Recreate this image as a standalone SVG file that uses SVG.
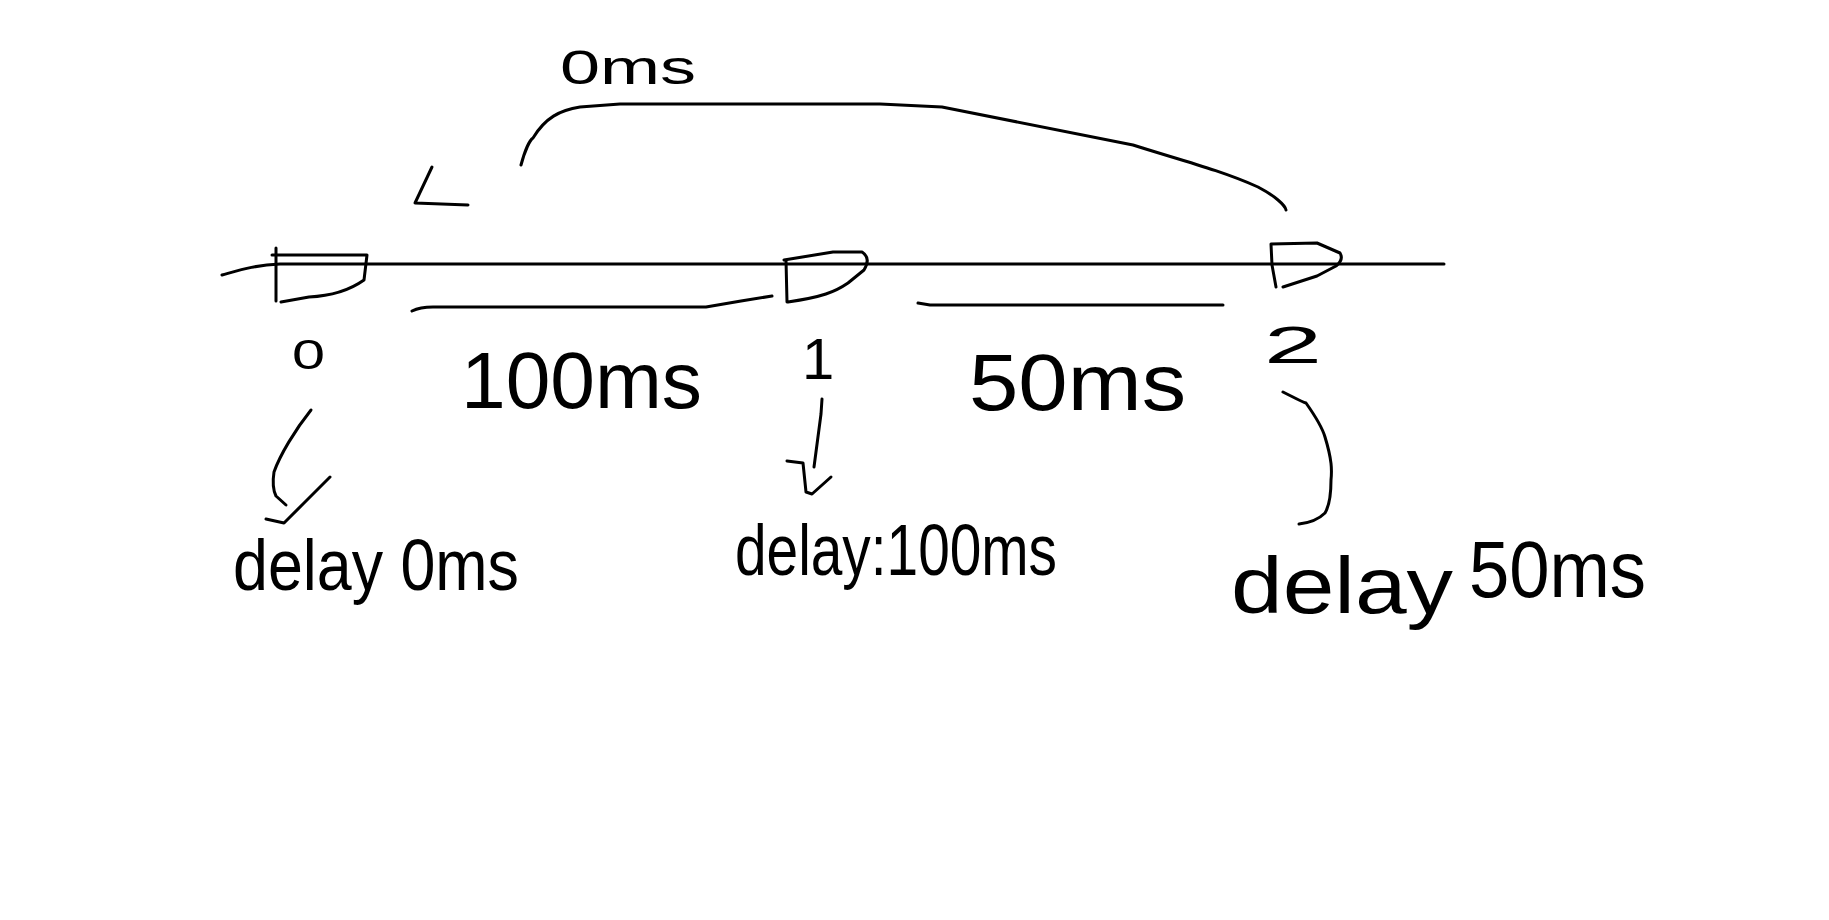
<svg xmlns="http://www.w3.org/2000/svg" width="1829" height="920" viewBox="0 0 1829 920">
<style>
.s{fill:none;stroke:#000;stroke-width:3;stroke-linecap:round;stroke-linejoin:round}
.t{font-family:"Liberation Sans",Arial,sans-serif;fill:#000}
</style>
<rect width="1829" height="920" fill="#fff"/>
<g id="timeline">
<path class="s" d="M222,275 C240,270 255,265 280,264 L1444,264"/>
</g>
<g id="node-0">
<path class="s" d="M276,248 L276,301 M272,255 L367,255 L364,280 C350,290 330,296 309,297 L281,302"/>
<text class="t" x="292" y="369" font-size="42" textLength="33" lengthAdjust="spacingAndGlyphs">0</text>
<text class="t" x="233" y="590" font-size="72" textLength="286" lengthAdjust="spacingAndGlyphs">delay 0ms</text>
</g>
<g id="node-1">
<path class="s" d="M786,260 L787,302 M784,260 L833,252 L862,252 C868,256 869,262 864,270 L848,283 C835,292 822,297 788,302"/>
<text class="t" x="802" y="379" font-size="58">1</text>
<text class="t" x="735" y="575" font-size="72" textLength="322" lengthAdjust="spacingAndGlyphs">delay:100ms</text>
</g>
<g id="node-2">
<path class="s" d="M1271,244 L1272,265 L1276,287 M1271,244 L1317,243 L1340,253 C1343,258 1341,262 1336,266 L1317,276 L1283,287"/>
<text class="t" x="1264" y="363" font-size="52" textLength="58" lengthAdjust="spacingAndGlyphs">2</text>
<text class="t" x="1231" y="613" font-size="80" textLength="222" lengthAdjust="spacingAndGlyphs">delay</text>
<text class="t" x="1469" y="597" font-size="80" textLength="177" lengthAdjust="spacingAndGlyphs">50ms</text>
</g>
<g id="connectors">
<path class="s" d="M412,311 C418,308 424,307 433,307 L706,307 L741,301 L772,296"/>
<path class="s" d="M918,303 L930,305 L1223,305"/>
<path class="s" d="M521,165 C525,150 530,140 533,138 C545,118 560,110 580,107 L620,104 L880,104 L942,107 L1133,145 C1180,160 1220,170 1258,187 C1275,196 1285,205 1286,210"/>
<path class="s" d="M432,167 L415,203 L468,205"/>
<path class="s" d="M311,410 C295,430 280,455 274,472 C272,485 274,492 276,496 L286,505"/>
<path class="s" d="M330,477 L303,504 L284,523 L266,519"/>
<path class="s" d="M822,399 L821,414 L814,467"/>
<path class="s" d="M787,461 L803,463 L806,492 L812,494 L831,477"/>
<path class="s" d="M1283,392 C1295,398 1302,402 1306,403 C1318,420 1323,430 1325,437 C1332,460 1332,470 1331,480 C1331,500 1328,508 1325,513 C1318,520 1308,523 1299,524"/>
</g>
<g id="labels">
<text class="t" x="560" y="84" font-size="48" textLength="136" lengthAdjust="spacingAndGlyphs">0ms</text>
<text class="t" x="461" y="408" font-size="80" textLength="241" lengthAdjust="spacingAndGlyphs">100ms</text>
<text class="t" x="969" y="410" font-size="80" textLength="217" lengthAdjust="spacingAndGlyphs">50ms</text>
</g>
</svg>
